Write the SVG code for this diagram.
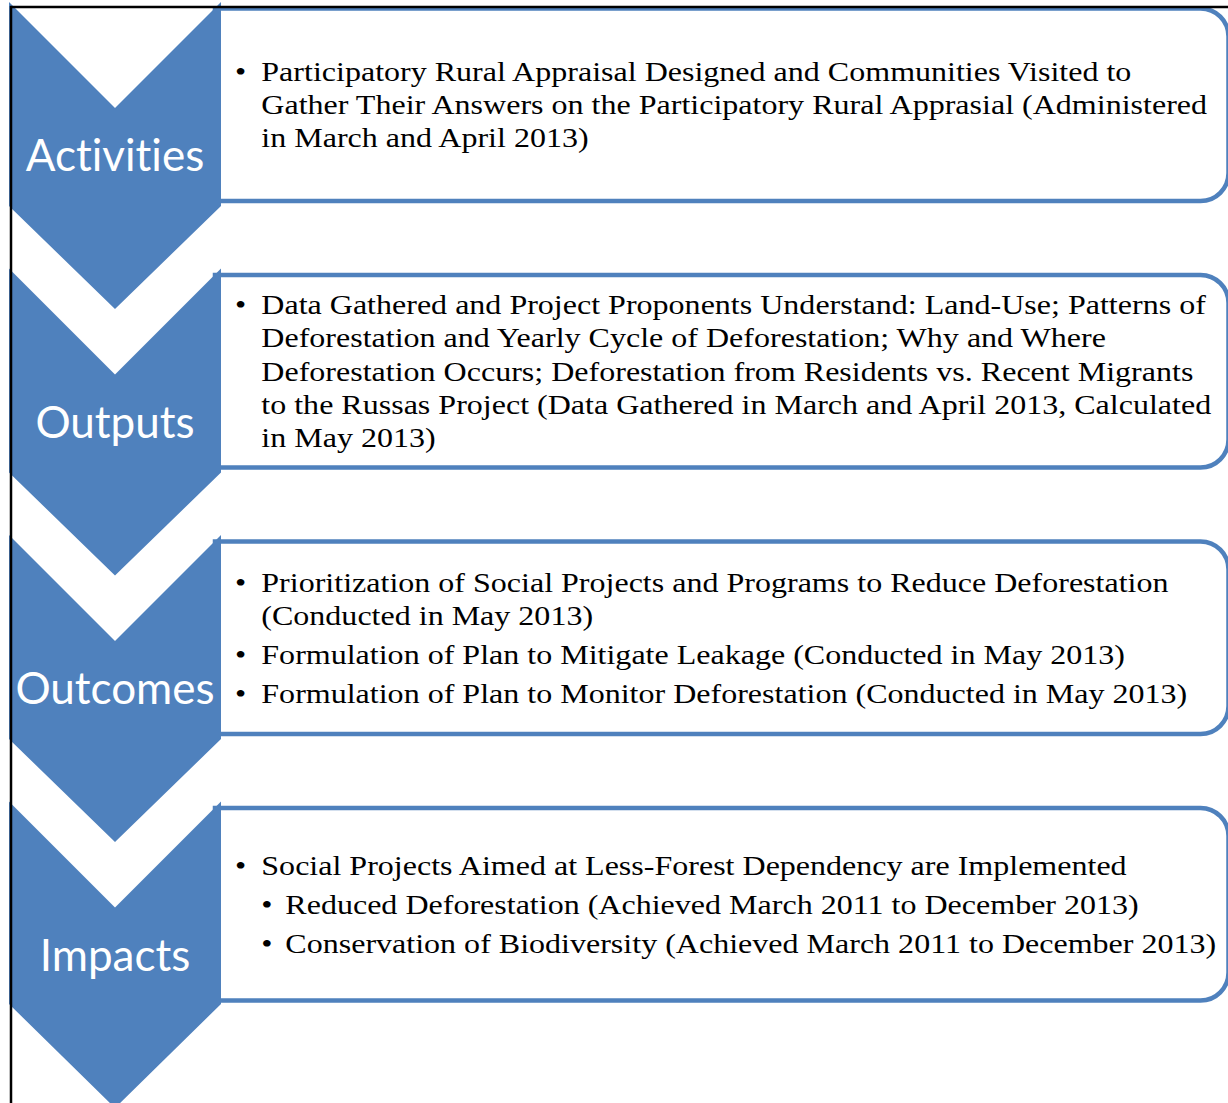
<svg xmlns="http://www.w3.org/2000/svg" width="1228" height="1103" viewBox="0 0 1228 1103">
<style>
.box{fill:#fff;stroke:#4F81BD;stroke-width:4.5}
.chev{fill:#4F81BD}
.label{font-family:Lato,"Open Sans",sans-serif;font-size:44px;fill:#fff;text-anchor:middle;font-variant-ligatures:none}
.body{font-family:"Liberation Serif","Times New Roman",serif;font-size:28px;fill:#000}
.border{stroke:#000;stroke-width:2.5;fill:none}
</style>
<rect width="1228" height="1103" fill="#fff"/>
<g id="activities">
<path class="box" d="M215 8.5 H1200.5 A28 28 0 0 1 1228.5 36.5 V173 A28 28 0 0 1 1200.5 201 H215 Z"/>
<path class="chev" d="M9 2 L115 108 L221 2 V206 L115 309 L9 206 Z"/>
<text class="label" x="115" y="171">Activities</text>
<g transform="translate(235 0) scale(1.144 1)">
<text class="body" x="0" y="81.5">•</text>
<text class="body" x="23" y="81.5">Participatory Rural Appraisal Designed and Communities Visited to</text>
<text class="body" x="23" y="114.5">Gather Their Answers on the Participatory Rural Apprasial (Administered</text>
<text class="body" x="23" y="147.5">in March and April 2013)</text>
</g>
</g>
<g id="outputs">
<path class="box" d="M215 275 H1200.5 A28 28 0 0 1 1228.5 303 V439.5 A28 28 0 0 1 1200.5 467.5 H215 Z"/>
<path class="chev" d="M9 268.5 L115 374.5 L221 268.5 V472.5 L115 575.5 L9 472.5 Z"/>
<text class="label" x="115" y="438">Outputs</text>
<g transform="translate(235 0) scale(1.144 1)">
<text class="body" x="0" y="314.5">•</text>
<text class="body" x="23" y="314.5">Data Gathered and Project Proponents Understand: Land-Use; Patterns of</text>
<text class="body" x="23" y="347.5">Deforestation and Yearly Cycle of Deforestation; Why and Where</text>
<text class="body" x="23" y="381">Deforestation Occurs; Deforestation from Residents vs. Recent Migrants</text>
<text class="body" x="23" y="414.5">to the Russas Project (Data Gathered in March and April 2013, Calculated</text>
<text class="body" x="23" y="447.5">in May 2013)</text>
</g>
</g>
<g id="outcomes">
<path class="box" d="M215 541.5 H1200.5 A28 28 0 0 1 1228.5 569.5 V706 A28 28 0 0 1 1200.5 734 H215 Z"/>
<path class="chev" d="M9 535 L115 641 L221 535 V739 L115 842 L9 739 Z"/>
<text class="label" x="115" y="704">Outcomes</text>
<g transform="translate(235 0) scale(1.144 1)">
<text class="body" x="0" y="592.5">•</text>
<text class="body" x="23" y="592.5">Prioritization of Social Projects and Programs to Reduce Deforestation</text>
<text class="body" x="23" y="625.5">(Conducted in May 2013)</text>
<text class="body" x="0" y="664.5">•</text>
<text class="body" x="23" y="664.5">Formulation of Plan to Mitigate Leakage (Conducted in May 2013)</text>
<text class="body" x="0" y="703">•</text>
<text class="body" x="23" y="703">Formulation of Plan to Monitor Deforestation (Conducted in May 2013)</text>
</g>
</g>
<g id="impacts">
<path class="box" d="M215 808 H1200.5 A28 28 0 0 1 1228.5 836 V972.5 A28 28 0 0 1 1200.5 1000.5 H215 Z"/>
<path class="chev" d="M9 801.5 L115 907.5 L221 801.5 V1004 L115 1108 L9 1004 Z"/>
<text class="label" x="115" y="971">Impacts</text>
<g transform="translate(235 0) scale(1.144 1)">
<text class="body" x="0" y="875">•</text>
<text class="body" x="23" y="875">Social Projects Aimed at Less-Forest Dependency are Implemented</text>
<text class="body" x="23" y="914">•</text>
<text class="body" x="44" y="914">Reduced Deforestation (Achieved March 2011 to December 2013)</text>
<text class="body" x="23" y="953">•</text>
<text class="body" x="44" y="953">Conservation of Biodiversity (Achieved March 2011 to December 2013)</text>
</g>
</g>
<g id="connectors"></g>
<g id="frame">
<line class="border" x1="11" y1="6" x2="11" y2="1103"/>
<line class="border" x1="10" y1="7" x2="1228" y2="7"/>
</g>
</svg>
